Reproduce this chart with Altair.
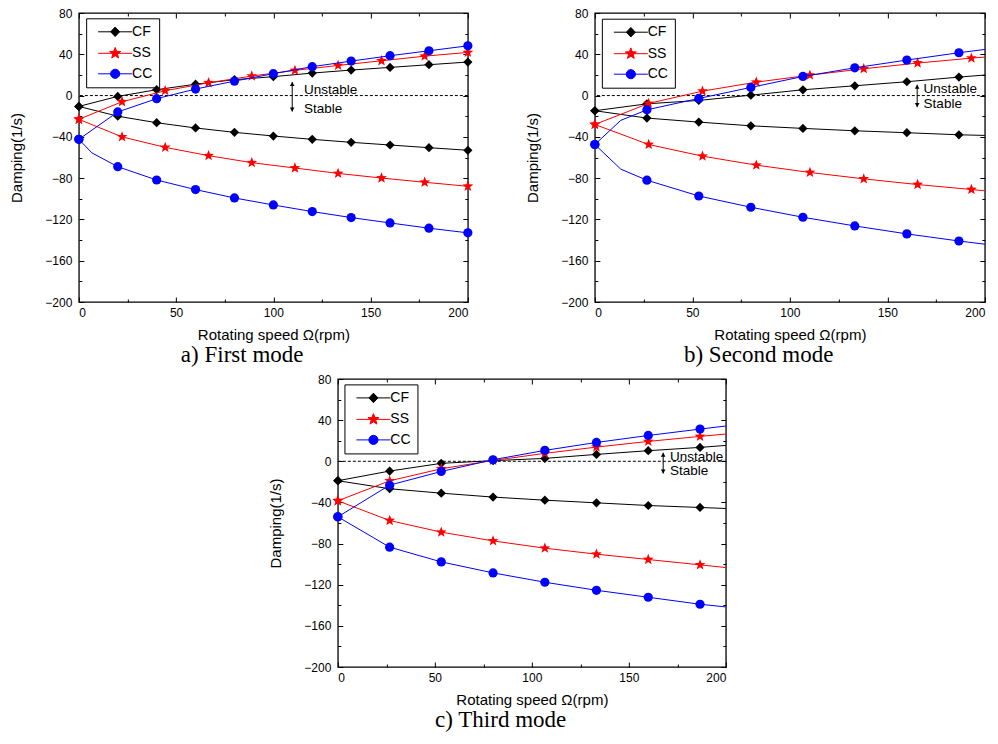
import math
import altair as alt

FONT = "Liberation Sans"
SERIF = "Liberation Serif"
SERIES = ["CF", "SS", "CC"]
COLORS = ["#000000", "#ff0000", "#0000ff"]
X_TICKS = [0, 50, 100, 150, 200]
X_MINOR = [25, 75, 125, 175]
Y_TICKS = [-200, -160, -120, -80, -40, 0, 40, 80]
Y_MINOR = [-180, -140, -100, -60, -20, 20, 60]

# ---------------- a) First mode ----------------
A_CF_X = [0, 20, 40, 60, 80, 100, 120, 140, 160, 180, 200]
A_CF_UP = [-10.5, -0.8, 5.7, 11.0, 15.4, 18.3, 21.8, 24.7, 27.3, 29.9, 32.5]
A_CF_LO = [-10.5, -20.0, -26.3, -31.4, -35.6, -39.2, -42.4, -45.3, -47.9, -50.5, -53.0]
A_SS_X = [0, 22.2, 44.4, 66.7, 88.9, 111.1, 133.3, 155.6, 177.8, 200]
A_SS_UP = [-23.0, -6.0, 4.7, 12.4, 18.9, 24.4, 29.2, 33.7, 38.2, 41.8]
A_SS_LO = [-23.0, -40.0, -50.2, -58.2, -65.0, -70.2, -75.4, -79.9, -84.0, -87.9]
A_CC_X = [0, 20, 40, 60, 80, 100, 120, 140, 160, 180, 200]
A_CC_UP = [-42.4, -15.9, -3.0, 6.3, 14.0, 21.2, 28.0, 33.4, 38.6, 43.4, 48.2]
A_CC_LO_X = [0, 6.7, 20, 40, 60, 80, 100, 120, 140, 160, 180, 200]
A_CC_LO = [-42.4, -55.5, -68.9, -81.8, -91.1, -99.2, -106.0, -112.4, -118.2, -123.4, -128.5, -133.0]
A_NOMARK = [6.7]
A_ARROW = [109.7, 13.2, -15.5]          # x, top, bottom
A_TEXT = [115.8, 5.2, -13.2]            # x, "Unstable" y, "Stable" y

# ---------------- b) Second mode ----------------
B_CF_X = [0, 26.7, 53.3, 80, 106.7, 133.3, 160, 186.7, 200]
B_CF_UP = [-14.7, -8.0, -4.7, 0.4, 5.6, 9.5, 13.4, 17.9, 19.9]
B_CF_LO = [-14.7, -21.8, -25.7, -29.3, -31.8, -34.1, -36.0, -38.0, -38.6]
B_SS_X = [0, 27.6, 55.2, 82.8, 110.3, 137.9, 165.5, 193.1, 200]
B_SS_UP = [-28.0, -7.6, 4.3, 13.0, 19.8, 26.0, 31.5, 36.3, 37.3]
B_SS_LO = [-28.0, -47.4, -58.7, -67.4, -74.5, -80.7, -86.2, -91.0, -92.3]
B_CC_X = [0, 13.3, 26.7, 53.3, 80, 106.7, 133.3, 160, 186.7, 200]
B_CC_UP = [-47.4, -24.0, -13.8, -2.8, 7.9, 18.5, 26.9, 34.4, 41.5, 44.7]
B_CC_LO = [-47.4, -71.3, -82.0, -97.3, -108.2, -117.9, -126.3, -134.0, -140.9, -144.0]
B_NOMARK = [13.3, 200]
B_ARROW = [165.3, 10.5, -11.2]
B_TEXT = [168.6, 6.3, -8.3]

# ---------------- c) Third mode ----------------
C_X = [0, 26.7, 53.3, 80, 106.7, 133.3, 160, 186.7, 200]
C_CF_UP = [-18.9, -9.5, -2.0, 0.6, 2.8, 6.7, 10.3, 13.5, 15.4]
C_CF_LO = [-18.9, -26.7, -31.0, -34.8, -37.8, -40.4, -43.0, -44.9, -45.9]
C_SS_UP = [-38.4, -19.0, -7.3, 0.8, 7.7, 13.8, 19.3, 24.2, 26.5]
C_SS_LO = [-38.4, -57.6, -68.9, -77.4, -84.5, -90.3, -95.5, -100.7, -103.3]
C_CC_UP = [-54.0, -23.2, -9.9, 1.5, 10.6, 18.3, 25.1, 31.3, 34.3]
C_CC_LO = [-54.0, -83.5, -97.8, -108.5, -117.6, -125.4, -132.2, -139.0, -141.6]
C_NOMARK = [200]
C_ARROW = [167.7, 8.3, -11.9]
C_TEXT = [171.2, 4.4, -9.5]


def build(curves, nomark):
    rows = []
    for series, branch, xs, ys in curves:
        for x, y in zip(xs, ys):
            rows.append({"series": series, "branch": series + branch, "x": float(x),
                         "y": float(y), "marker": 0 if x in nomark else 1})
    return rows


ROWS_A = build([("CF", "up", A_CF_X, A_CF_UP), ("CF", "lo", A_CF_X, A_CF_LO),
                ("SS", "up", A_SS_X, A_SS_UP), ("SS", "lo", A_SS_X, A_SS_LO),
                ("CC", "up", A_CC_X, A_CC_UP), ("CC", "lo", A_CC_LO_X, A_CC_LO)], A_NOMARK)
ROWS_B = build([("CF", "up", B_CF_X, B_CF_UP), ("CF", "lo", B_CF_X, B_CF_LO),
                ("SS", "up", B_SS_X, B_SS_UP), ("SS", "lo", B_SS_X, B_SS_LO),
                ("CC", "up", B_CC_X, B_CC_UP), ("CC", "lo", B_CC_X, B_CC_LO)], B_NOMARK)
ROWS_C = build([("CF", "up", C_X, C_CF_UP), ("CF", "lo", C_X, C_CF_LO),
                ("SS", "up", C_X, C_SS_UP), ("SS", "lo", C_X, C_SS_LO),
                ("CC", "up", C_X, C_CC_UP), ("CC", "lo", C_X, C_CC_LO)], C_NOMARK)


# symbol paths in unit coordinates (Vega scales them by sqrt(size)/2)
def poly(pts):
    return "M" + "L".join(f"{px:.3f},{py:.3f}" for px, py in pts) + "Z"


def star_pts(ro, ri):
    pts = []
    for i in range(10):
        r = ro if i % 2 == 0 else ri
        a = math.radians(-90 + 36 * i)
        pts.append((r * math.cos(a), r * math.sin(a)))
    return pts


def ngon(r, step):
    return [(r * math.cos(math.radians(a)), r * math.sin(math.radians(a)))
            for a in range(0, 360, step)]


STAR = poly(star_pts(1.0, 0.42))
MARKER_SHAPES = ["diamond", STAR, "circle"]
MARKER_SIZES = [85, 130, 85]

LINE = "M-2.43,0L2.43,0"
PATHS = [
    LINE + poly([(-0.64, 0), (0, -0.68), (0.64, 0), (0, 0.68)]),
    LINE + poly(star_pts(0.83, 0.35)),
    LINE + poly(ngon(0.66, 30)),
]


def tick_axis(orient, values, size):
    return alt.Axis(orient=orient, values=values, labels=False, domain=False, grid=False,
                    ticks=True, tickSize=size, offset=-size, tickColor="black",
                    tickWidth=1, title=None)


def panel(rows, arrow, text, caption, w, h, legx, legy):
    xs = alt.Scale(domain=[0, 200], nice=False, zero=False)
    ys = alt.Scale(domain=[-200, 80], nice=False, zero=False)
    X0 = alt.X("x:Q", scale=xs, axis=None)
    Y0 = alt.Y("y:Q", scale=ys, axis=None)
    base = alt.Chart(alt.Data(values=rows))

    def axis_layer(xaxis, yaxis):
        return base.mark_point(opacity=0, size=1).encode(
            x=alt.X("x:Q", scale=xs, axis=xaxis), y=alt.Y("y:Q", scale=ys, axis=yaxis))

    main_axes = axis_layer(
        alt.Axis(orient="bottom", values=X_TICKS, ticks=False, domain=False, grid=False,
                 labelPadding=5, title="Rotating speed Ω(rpm)", titlePadding=9, format="d"),
        alt.Axis(orient="left", values=Y_TICKS, ticks=False, domain=False, grid=False,
                 labelPadding=7, title="Damping(1/s)", titlePadding=20, format="d"))
    layers = [
        main_axes,
        axis_layer(tick_axis("bottom", X_TICKS, 5), tick_axis("left", Y_TICKS, 5)),
        axis_layer(tick_axis("top", X_TICKS, 5), tick_axis("right", Y_TICKS, 5)),
        axis_layer(tick_axis("bottom", X_MINOR, 3), tick_axis("left", Y_MINOR, 3)),
        axis_layer(tick_axis("top", X_MINOR, 3), tick_axis("right", Y_MINOR, 3)),
        alt.Chart(alt.Data(values=[{"y": 0.0}])).mark_rule(
            color="black", strokeWidth=1, strokeDash=[3, 2]).encode(y=alt.Y("y:Q", scale=ys, axis=None)),
    ]
    for s, col, shp, sz in zip(SERIES, COLORS, MARKER_SHAPES, MARKER_SIZES):
        sub = base.transform_filter(alt.datum.series == s)
        layers.append(sub.mark_line(color=col, strokeWidth=1).encode(
            x=X0, y=Y0, detail="branch:N", order="x:Q"))
        layers.append(sub.transform_filter(alt.datum.marker == 1).mark_point(
            shape=shp, filled=True, color=col, opacity=1, size=sz).encode(x=X0, y=Y0))

    arr = alt.Data(values=[{"x": arrow[0], "y": arrow[1], "y2": arrow[2]}])
    layers.append(alt.Chart(arr).mark_rule(color="black", strokeWidth=1).encode(
        x=X0, y=Y0, y2=alt.Y2("y2")))
    layers.append(alt.Chart(arr).mark_point(shape="triangle-up", filled=True, color="black",
                                            opacity=1, size=22, yOffset=2).encode(x=X0, y=Y0))
    layers.append(alt.Chart(arr).mark_point(shape="triangle-down", filled=True, color="black",
                                            opacity=1, size=22, yOffset=-2).encode(
        x=X0, y=alt.Y("y2:Q", scale=ys, axis=None)))
    txt = alt.Data(values=[{"x": text[0], "y": text[1], "t": "Unstable"},
                           {"x": text[0], "y": text[2], "t": "Stable"}])
    layers.append(alt.Chart(txt).mark_text(align="left", baseline="middle", font=FONT,
                                           fontSize=13.5, color="black").encode(
        x=X0, y=Y0, text="t:N"))

    leg = alt.Legend(orient="none", legendX=legx, legendY=legy, title=None,
                     symbolSize=196, symbolStrokeWidth=1, symbolOpacity=1,
                     labelFont=FONT, labelFontSize=14, labelColor="black",
                     strokeColor="black", padding=6, symbolOffset=15.5, labelOffset=9.4,
                     rowPadding=5.5, direction="vertical")
    layers.append(base.mark_point(opacity=0, filled=True).encode(
        x=X0, y=Y0,
        fill=alt.Fill("series:N", scale=alt.Scale(domain=SERIES, range=COLORS), legend=leg),
        stroke=alt.Stroke("series:N", scale=alt.Scale(domain=SERIES, range=COLORS), legend=leg),
        shape=alt.Shape("series:N", scale=alt.Scale(domain=SERIES, range=PATHS), legend=leg)))

    return alt.layer(*layers).properties(
        width=w, height=h,
        title=alt.TitleParams(caption, orient="bottom", frame="bounds", anchor="middle",
                              font=SERIF, fontSize=23, fontWeight="normal", color="black",
                              offset=2),
    ).resolve_axis(x="independent", y="independent")


pa = panel(ROWS_A, A_ARROW, A_TEXT, "a) First mode", 389, 289, 7.3, 5.3)
pb = panel(ROWS_B, B_ARROW, B_TEXT, "b) Second mode", 390, 289, 7.0, 5.7)
pc = panel(ROWS_C, C_ARROW, C_TEXT, "c) Third mode", 388, 288, 6.6, 5.4)

IND = dict(color="independent", fill="independent", stroke="independent", shape="independent")
top = alt.hconcat(pa, pb, spacing=49).resolve_scale(**IND).resolve_legend(**IND)
chart = alt.vconcat(top, pc, spacing=4, center=True).resolve_scale(**IND).resolve_legend(**IND)
chart = chart.properties(
    padding={"left": 8.5, "top": 6, "right": 0, "bottom": 0}, background="white"
).configure_view(stroke="black", strokeWidth=1.3).configure_axis(
    labelFont=FONT, labelFontSize=12, labelColor="black",
    titleFont=FONT, titleFontSize=15, titleFontWeight="normal", titleColor="black",
)

chart.save("out.html", embed_options={"renderer": "svg", "actions": False})
